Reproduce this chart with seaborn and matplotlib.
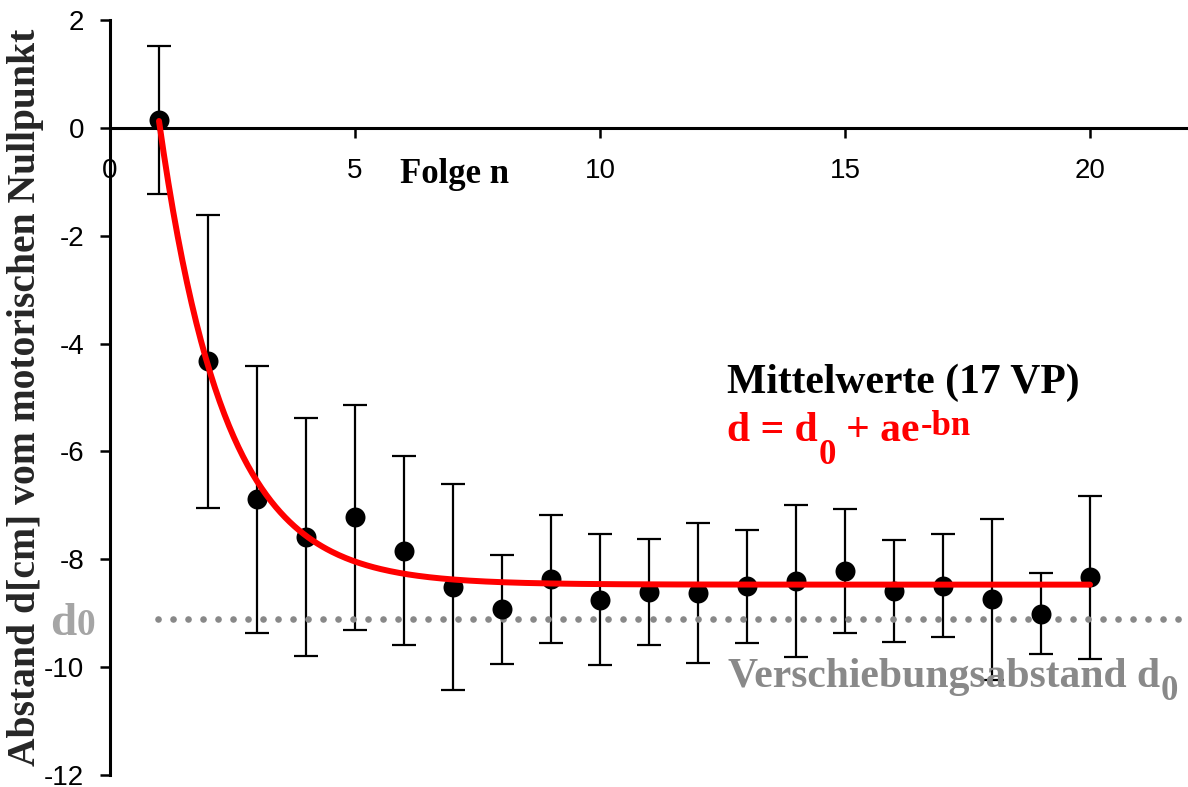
import numpy as np
import pandas as pd
import matplotlib
matplotlib.use("Agg")
import matplotlib.pyplot as plt
from matplotlib.transforms import ScaledTranslation
import seaborn as sns

# Mean distance per trial (17 subjects) and standard deviation
trial = list(range(1, 21))
mean_d = [0.14, -4.33, -6.89, -7.59, -7.22, -7.84, -8.52, -8.93, -8.36, -8.75,
          -8.61, -8.63, -8.50, -8.41, -8.21, -8.59, -8.49, -8.74, -9.01, -8.33]
sd_d = [1.37, 2.71, 2.47, 2.21, 2.09, 1.75, 1.91, 1.01, 1.19, 1.21,
        0.98, 1.30, 1.05, 1.41, 1.15, 0.94, 0.95, 1.49, 0.75, 1.51]

# Exponential fit d = d0 + a*exp(-b*n)
fit_d0, fit_a, fit_b = -8.47, 18.2, 0.75
fit_range = (1, 20)

# Shift distance d0 (dotted reference line)
shift_d0 = -9.10
shift_range = (0.97, 22)

x_ticks = [0, 5, 10, 15, 20]
y_ticks = [-12, -10, -8, -6, -4, -2, 0, 2]

sns.set_style("ticks")
plt.rcParams.update({
    "font.family": ["Liberation Sans", "DejaVu Sans"],
    "axes.unicode_minus": False,
})
SERIF = ["Liberation Serif", "DejaVu Serif"]

fig = plt.figure(figsize=(11.88, 7.87), dpi=100)
ax = fig.add_axes([110 / 1188, 1 - 775 / 787, 1 - 110 / 1188, (775 - 20) / 787])

# error bars
ax.errorbar(trial, mean_d, yerr=sd_d, fmt="none", ecolor="black",
             elinewidth=1.6, capsize=8.3, capthick=1.6, zorder=2)

# dotted d0 line
ax.plot(list(shift_range), [shift_d0, shift_d0], color="#888888", lw=4.8,
        linestyle=(0, (0.01, 2.24)), dash_capstyle="round", zorder=3,
        clip_on=False)

# mean values
sns.scatterplot(x=trial, y=mean_d, s=207, color="black", linewidth=0,
                zorder=4, ax=ax, legend=False)

# fitted curve
nn = np.linspace(fit_range[0], fit_range[1], 400)
fit_df = pd.DataFrame({"n": nn, "d": fit_d0 + fit_a * np.exp(-fit_b * nn)})
sns.lineplot(data=fit_df, x="n", y="d", color="#ff0000", lw=4.3, zorder=5,
             ax=ax, legend=False)

ax.set_xlim(0, 22)
ax.set_ylim(-12, 2)
ax.set_xticks(x_ticks)
ax.set_yticks(y_ticks)
ax.set_xlabel("")
for side in ("top", "right"):
    ax.spines[side].set_visible(False)
ax.spines["bottom"].set_position(("data", 0))
for side in ("bottom", "left"):
    ax.spines[side].set_linewidth(2.2)
    ax.spines[side].set_color("black")
ax.tick_params(axis="both", direction="out", length=7.5, width=1.8,
               labelsize=20, color="black", labelcolor="black")
ax.tick_params(axis="x", pad=14)
ax.tick_params(axis="y", pad=11)

ax.set_ylabel("Abstand d[cm] vom motorischen Nullpunkt", family=SERIF,
              fontweight="bold", fontsize=28.5, va="center")
ax.yaxis.set_label_coords(-0.078, 0.5)

ax.text(5.92, -1.02, "Folge n", family=SERIF, fontweight="bold",
        fontsize=25, color="black")

renderer = fig.canvas.get_renderer()


def draw_runs(x, y, runs, color):
    """Draw consecutive text pieces; each run = (text, size, dy_px, gap_px)."""
    offset = 0.0
    for text, size, dy, gap in runs:
        offset += gap
        tr = ax.transData + ScaledTranslation(offset / fig.dpi, dy / fig.dpi,
                                              fig.dpi_scale_trans)
        t = ax.text(x, y, text, family=SERIF, fontweight="bold", fontsize=size,
                    color=color, transform=tr, clip_on=False)
        offset += t.get_window_extent(renderer).width


ax.text(12.59, -4.92, "Mittelwerte (17 VP)", family=SERIF, fontweight="bold",
        fontsize=30, color="black")

draw_runs(12.59, -5.80, [
    ("d = d", 30, 0, 0),
    ("0", 25, -23, 1),
    ("+ ae", 30, 0, 10),
    ("-bn", 25, 6, 1),
], "#ff0000")

draw_runs(12.61, -10.36, [
    ("Verschiebungsabstand d", 30, 0, 0),
    ("0", 25, -13, 1),
], "#898989")

draw_runs(-1.22, -9.41, [
    ("d", 34, 0, 0),
    ("0", 27, 0, 0),
], "#a5a5a5")

fig.savefig("out.png", dpi=100)
